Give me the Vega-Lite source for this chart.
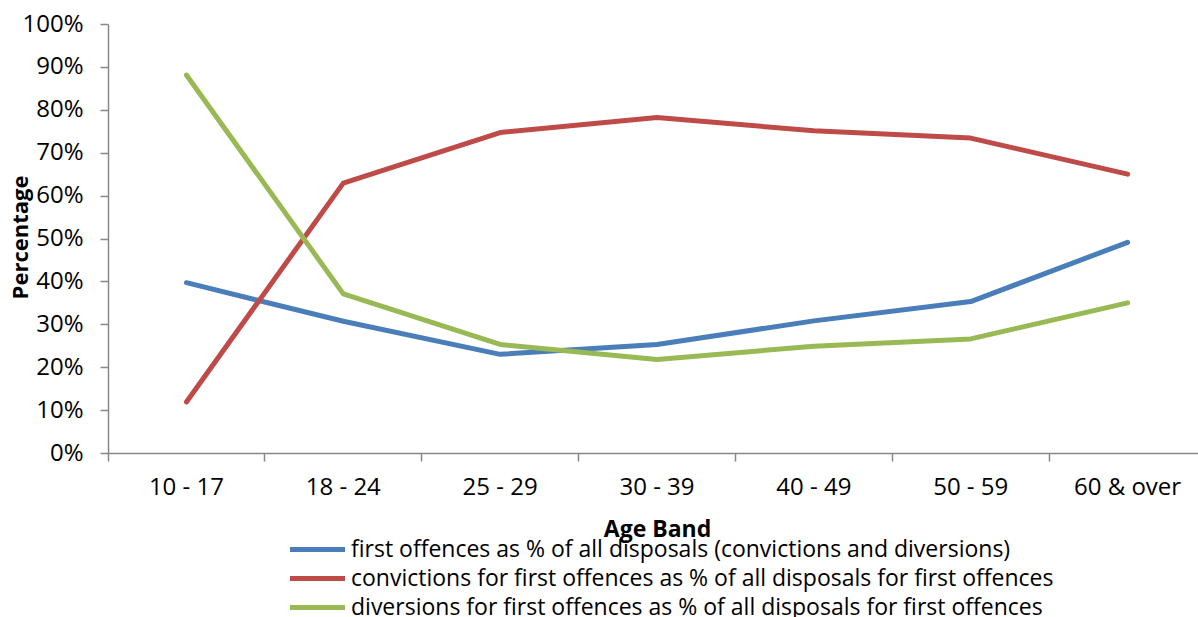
{
  "$schema": "https://vega.github.io/schema/vega-lite/v6.json",
  "autosize": {"type": "none"},
  "width": 1090,
  "height": 429,
  "padding": {"left": 108, "top": 24, "right": 0, "bottom": 164},
  "background": "white",
  "config": {
    "view": {"stroke": null},
    "font": "Open Sans",
    "axis": {"grid": false, "domainColor": "#888888", "tickColor": "#888888", "domainWidth": 1.5, "tickWidth": 1.5, "tickSize": 8, "labelColor": "#000000", "titleColor": "#000000", "labelFont": "Open Sans", "titleFont": "Open Sans"},
    "legend": {"labelFont": "Open Sans", "labelColor": "#000000"}
  },
  "data": {
    "values": [
      {"band": "10 - 17", "series": "first offences as % of all disposals (convictions and diversions)", "pct": 39.7},
      {"band": "18 - 24", "series": "first offences as % of all disposals (convictions and diversions)", "pct": 30.7},
      {"band": "25 - 29", "series": "first offences as % of all disposals (convictions and diversions)", "pct": 23.0},
      {"band": "30 - 39", "series": "first offences as % of all disposals (convictions and diversions)", "pct": 25.3},
      {"band": "40 - 49", "series": "first offences as % of all disposals (convictions and diversions)", "pct": 30.8},
      {"band": "50 - 59", "series": "first offences as % of all disposals (convictions and diversions)", "pct": 35.3},
      {"band": "60 & over", "series": "first offences as % of all disposals (convictions and diversions)", "pct": 49.1},
      {"band": "10 - 17", "series": "convictions for first offences as % of all disposals for first offences", "pct": 11.9},
      {"band": "18 - 24", "series": "convictions for first offences as % of all disposals for first offences", "pct": 62.9},
      {"band": "25 - 29", "series": "convictions for first offences as % of all disposals for first offences", "pct": 74.7},
      {"band": "30 - 39", "series": "convictions for first offences as % of all disposals for first offences", "pct": 78.2},
      {"band": "40 - 49", "series": "convictions for first offences as % of all disposals for first offences", "pct": 75.1},
      {"band": "50 - 59", "series": "convictions for first offences as % of all disposals for first offences", "pct": 73.4},
      {"band": "60 & over", "series": "convictions for first offences as % of all disposals for first offences", "pct": 65.0},
      {"band": "10 - 17", "series": "diversions for first offences as % of all disposals for first offences", "pct": 88.1},
      {"band": "18 - 24", "series": "diversions for first offences as % of all disposals for first offences", "pct": 37.1},
      {"band": "25 - 29", "series": "diversions for first offences as % of all disposals for first offences", "pct": 25.3},
      {"band": "30 - 39", "series": "diversions for first offences as % of all disposals for first offences", "pct": 21.8},
      {"band": "40 - 49", "series": "diversions for first offences as % of all disposals for first offences", "pct": 24.9},
      {"band": "50 - 59", "series": "diversions for first offences as % of all disposals for first offences", "pct": 26.6},
      {"band": "60 & over", "series": "diversions for first offences as % of all disposals for first offences", "pct": 35.0}
    ]
  },
  "mark": {"type": "line", "strokeWidth": 5, "strokeCap": "round", "strokeJoin": "round"},
  "encoding": {
    "x": {
      "field": "band",
      "type": "ordinal",
      "sort": null,
      "scale": {"type": "band", "range": [0, 1098], "paddingInner": 0, "paddingOuter": 0},
      "axis": {"title": "Age Band", "labelAngle": 0, "labelFontSize": 24, "labelPadding": 14, "titleFontSize": 23, "titleFontWeight": "bold", "titlePadding": 19, "bandPosition": 0, "labelBound": false, "labelOverlap": false, "titleX": 549}
    },
    "y": {
      "field": "pct",
      "type": "quantitative",
      "scale": {"domain": [0, 100], "nice": false},
      "axis": {"title": "Percentage", "values": [0, 10, 20, 30, 40, 50, 60, 70, 80, 90, 100], "labelExpr": "datum.value + '%'", "labelFontSize": 24, "labelPadding": 17, "titleFontSize": 22, "titleFontWeight": "bold", "titleX": -88, "titleY": 213, "titleAngle": -90, "titleAlign": "center", "titleBaseline": "middle"}
    },
    "color": {
      "field": "series",
      "type": "nominal",
      "sort": null,
      "scale": {
        "domain": [
          "first offences as % of all disposals (convictions and diversions)",
          "convictions for first offences as % of all disposals for first offences",
          "diversions for first offences as % of all disposals for first offences"
        ],
        "range": ["#4a7ebb", "#be4b48", "#98b954"]
      },
      "legend": {"title": null, "orient": "none", "legendX": 196, "legendY": 512, "symbolType": "M-2.5,0H2.5", "symbolSize": 484, "symbolStrokeWidth": 5, "symbolStrokeCap": "round", "labelFontSize": 23, "labelLimit": 900, "rowPadding": 3, "labelOffset": 20, "symbolOffset": 0}
    }
  }
}
